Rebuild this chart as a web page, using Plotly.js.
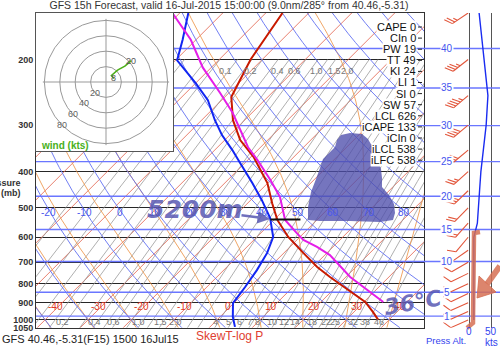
<!DOCTYPE html>
<html>
<head>
<meta charset="utf-8">
<script src="https://cdn.plot.ly/plotly-3.0.1.min.js"></script>
<style>
html,body{margin:0;padding:0;background:#fff;overflow:hidden}
#chart{width:500px;height:348px}
</style>
</head>
<body>
<div id="chart"></div>
<script>
// ===== Sounding data =====
const tempP   = [150,200,252,291,329,365,429,486,539,599,661,704,721,767,796,895,952,1000];
const tempT   = [-56.1,-52.7,-48.5,-42.7,-36.4,-29.4,-20.1,-14.3,-9.2,-2.7,4.5,9.1,11.0,16.3,19.6,30.3,34.4,37.5];
const dewP    = [150,177,201,231,257,291,319,350,379,429,477,533,599,661,735,816,901,982,1044];
const dewT    = [-78.0,-73.1,-69.6,-60.1,-53.2,-46.9,-41.8,-35.9,-31.1,-23.6,-17.4,-11.3,-6.2,-3.9,-2.3,-1.1,-0.2,3.0,5.8];
const parcelP = [150,177,210,246,278,344,372,421,468,539,585,610,637,670,767,895];
const parcelT = [-81.7,-71.2,-62.0,-52.0,-44.5,-32.9,-27.8,-20.1,-13.9,-7.4,-1.6,1.5,6.3,11.2,21.0,34.5];
const lclLevel = 538;
const lclSegT  = [-10.9,-3.9];

// winds
const windP   = [150,200,250,300,350,400,450,500,550,600,650,700,750,800,850,900,950,1000];
const windSpd = [23,34,43,39,32,27,24,21,19,11,11,11,11,11,11,11,11,11];
const windDir = [236,232,230,230,230,228,226,224,222,220,235,240,244,245,245,246,246,246];
const hodoTop = 250;
const hodoLabelP = [850,250];
const hodoLabelText = ['8','20'];

// indices
const idxNames = ['CAPE','CIn','PW','TT','KI','LI','SI','SW','LCL','iCAPE','iCIn','iLCL','iLFC'];
const idxVals  = [0,0,19,49,24,1,0,57,626,133,0,538,538];

// diagram reference lines & labels
const isoT = [-120,-110,-100,-90,-80,-70,-60,-50,-40,-30,-20,-10,0,10,20,30,40,50];
const isoLabels = [-40,-30,-20,-10,0,10,20,30,40];
const thetaC = [-50,-40,-30,-20,-10,0,10,20,30,40,50,60,70,80,90,100,110,120,130,140,150,160];
const thetaLabels = [-20,-10,0,10,20,30,40,50,60,70,80];
const thetaW = [-40,-30,-20,-10,0,10,20,30,40];
const mixW = [0.02,0.04,0.06,0.1,0.15,0.2,0.3,0.4,0.5,0.6,0.8,1.0,1.2,1.5,2.0,2.5,3,4,5,6,7,8,10,12,14,16,18,20,22,25,28,32,38,46];
const mixLabelsBottom = ['0.2','0.4','0.6','1.0','1.5','2.0','4','5','6','7','8','10','12','14','18','22','25','32','38','46'];
const mixLabelsTop = ['0.1','0.2','0.4','0.6','1.0','1.5','2.0'];
const altKft = [1,5,10,15,20,25,30,35,40];
const pressTicks = [200,300,400,500,600,700,800,900,1000,1050];
const hodoRings = [20,40,60,80];
const speedTicks = [0,50];

// ===== geometry / style constants =====
const W=500, H=348, FONT='Liberation Sans, Arial, sans-serif';
const PL=36, PR=424, PT=13, PB=327.8;
const K=37.6;                       // skew (deg C per ln p)
const XMIN=-42.09, XMAX=48.14;      // skewed temperature range
const PTOP=150, PBOT=1050;
const SPD_MIN=-102.27, SPD_MAX=70.45;
const PXKT=0.44, PXLN=161.8, BARB_X=-2;
const HX=[-90.9,87.0], HY=[-89.6,89.6];
const C_ISO='#e2604a', C_DRY='#6270f2', C_MOIST='#ee9c55', C_MIX='#9a9a9a';
const C_ALT='#6a76ff', C_HAND='rgba(88,88,178,0.85)', C_SALMON='rgba(214,112,84,0.85)';

const sx = (T,p) => T + K*Math.log(1000/p);
const fx = px => px/W;
const fy = py => 1 - py/H;
const esat = Tc => 6.112*Math.exp(17.67*Tc/(Tc+243.5));

function push(arrX, arrY, xs, ys){ for(let i=0;i<xs.length;i++){arrX.push(xs[i]);arrY.push(ys[i]);} arrX.push(null); arrY.push(null); }

// isotherms
const isoX=[], isoY=[];
isoT.forEach(T=>push(isoX,isoY,[sx(T,PBOT),sx(T,PTOP)],[PBOT,PTOP]));
// dry adiabats
const dryX=[], dryY=[];
thetaC.forEach(th=>{
  const xs=[],ys=[];
  for(let p=PBOT;p>=PTOP;p-=10){const T=(th+273.15)*Math.pow(p/1000,0.2857)-273.15; xs.push(sx(T,p)); ys.push(p);}
  push(dryX,dryY,xs,ys);
});
// moist adiabats
function lapse(Tk,p){
  const Rd=287.04,cp=1005.7,L=2.501e6,eps=0.622;
  const es=esat(Tk-273.15), rs=eps*es/(p-es);
  return (Rd*Tk+L*rs)/(p*(cp+L*L*rs*eps/(Rd*Tk*Tk)));
}
const moistX=[], moistY=[];
thetaW.forEach(tw=>{
  const up=[], dn=[];
  let T=tw+273.15, p=1000; up.push([p,T]);
  while(p>PTOP){const dp=-5;const k1=lapse(T,p);const k2=lapse(T+k1*dp/2,p+dp/2);T+=k2*dp;p+=dp;up.push([p,T]);}
  T=tw+273.15; p=1000;
  while(p<PBOT){const dp=5;const k1=lapse(T,p);const k2=lapse(T+k1*dp/2,p+dp/2);T+=k2*dp;p+=dp;dn.push([p,T]);}
  const all=dn.reverse().concat(up);
  push(moistX,moistY,all.map(a=>sx(a[1]-273.15,a[0])),all.map(a=>a[0]));
});
// mixing ratio lines
const tdOf=(w,p)=>{const e=w*p/(622+w);const l=Math.log(e/6.112);return 243.5*l/(17.67-l);};
const mixX=[], mixY=[];
mixW.forEach(w=>{
  const xs=[],ys=[];
  for(let p=PBOT;p>=200;p-=25){xs.push(sx(tdOf(w,p),p));ys.push(p);}
  push(mixX,mixY,xs,ys);
});
// altitude lines
const altP = altKft.map(h=>1013.25*Math.pow(1-6.8756e-6*h*1000,5.2559));
const altX=[], altY=[], altX3=[], altY3=[];
altP.forEach(p=>{push(altX,altY,[XMIN,XMAX],[p,p]); push(altX3,altY3,[SPD_MIN,SPD_MAX],[p,p]);});

// wind barbs
const barbX=[], barbY=[];
(function(){
  const c=Math.cos(Math.PI/3), s=Math.sin(Math.PI/3);
  for(let i=0;i<windP.length;i++){
    const p=windP[i], a=windDir[i]*Math.PI/180;
    const ux=Math.sin(a), uy=-Math.cos(a);
    const fvx=ux*c-uy*s, fvy=ux*s+uy*c;
    const pt=(dx,dy)=>[BARB_X+dx/PXKT, p*Math.exp(dy/PXLN)];
    const seg=(A,B)=>push(barbX,barbY,[A[0],B[0]],[A[1],B[1]]);
    const L=19, FL=9, SP=3;
    seg(pt(0,0),pt(L*ux,L*uy));
    const v=Math.round(windSpd[i]/5)*5;
    const n10=Math.floor(v/10), n5=(v%10)>=5?1:0;
    let d=L;
    for(let k=0;k<n10;k++){seg(pt(d*ux,d*uy),pt(d*ux+FL*fvx,d*uy+FL*fvy)); d-=SP;}
    if(n5){ if(n10===0) d-=SP; seg(pt(d*ux,d*uy),pt(d*ux+FL/2*fvx,d*uy+FL/2*fvy)); }
  }
})();

// hodograph
const hodoU=[], hodoV=[];
windP.forEach((p,i)=>{ if(p>=hodoTop){ const a=windDir[i]*Math.PI/180; hodoU.push(-windSpd[i]*Math.sin(a)); hodoV.push(-windSpd[i]*Math.cos(a)); }});
hodoU.reverse(); hodoV.reverse();

const ln = (x,y,color,width,xa,ya,extra)=>Object.assign({type:'scatter',mode:'lines',x:x,y:y,xaxis:xa||'x',yaxis:ya||'y',line:{color:color,width:width},hoverinfo:'skip',connectgaps:false},extra||{});

const traces = [
  ln(isoX,isoY,C_ISO,0.8),
  ln(mixX,mixY,C_MIX,0.8),
  ln(moistX,moistY,C_MOIST,0.9),
  ln(dryX,dryY,C_DRY,0.9),
  ln(altX,altY,C_ALT,1.4),
  ln(dewP.map((p,i)=>sx(dewT[i],p)),dewP,'#1226f2',2),
  ln(tempP.map((p,i)=>sx(tempT[i],p)),tempP,'#c81a00',2),
  ln(parcelP.map((p,i)=>sx(parcelT[i],p)),parcelP,'#e41ee8',2),
  ln(lclSegT.map(T=>sx(T,lclLevel)),[lclLevel,lclLevel],'#111',2),
  // hodograph
  ln([-82,82],[0,0],'#999',1,'x2','y2'),
  ln([0,0],[-82,82],'#999',1,'x2','y2'),
  ln(hodoU,hodoV,'#4caf18',1.6,'x2','y2'),
  // right panel
  ln(altX3,altY3,C_ALT,1.4,'x3','y3'),
  ln(barbX,barbY,'#e2553a',1.1,'x3','y3'),
  ln(windSpd,windP,'#1a2cf0',1.4,'x3','y3')
];

// ===== annotations =====
const A=[];
const txt=(x,y,text,o)=>A.push(Object.assign({x:x,y:y,xref:'paper',yref:'paper',xanchor:'center',yanchor:'middle',text:text,showarrow:false,font:{family:FONT,size:10,color:'#222'}},o||{}));
const dtxt=(x,y,xr,yr,text,o)=>A.push(Object.assign({x:x,y:y,xref:xr,yref:yr,xanchor:'center',yanchor:'middle',text:text,showarrow:false,font:{family:FONT,size:10,color:'#222'}},o||{}));
// axis title pieces
txt(fx(23),fy(183),'Pressure',{xanchor:'right',font:{family:FONT,size:9,weight:'bold',color:'#333'}});
txt(fx(23),fy(193),'(mb)',{xanchor:'right',font:{family:FONT,size:9,weight:'bold',color:'#333'}});
// isotherm labels
isoLabels.forEach(T=>dtxt(sx(T,918),Math.log10(918),'x','y',String(T),{xshift:-3,font:{family:FONT,size:10,color:'#e03a26'}}));
// dry adiabat labels at 500mb
thetaLabels.forEach(th=>{const p=516;const T=(th+273.15)*Math.pow(p/1000,0.2857)-273.15;dtxt(sx(T,p),Math.log10(p),'x','y',String(th),{xshift:-2,font:{family:FONT,size:10,color:'#4a58ee'}});});
// mixing ratio labels
mixLabelsBottom.forEach(s=>{const w=parseFloat(s),p=1013;dtxt(sx(tdOf(w,p),p),Math.log10(p),'x','y',s,{xshift:-3,font:{family:FONT,size:9,color:'#777'}});});
mixLabelsTop.forEach(s=>{const w=parseFloat(s),p=215;dtxt(sx(tdOf(w,p),p),Math.log10(p),'x','y',s,{xshift:-3,font:{family:FONT,size:9,color:'#777'}});});
// index labels
idxNames.forEach((n,i)=>txt(fx(417),fy(27+i*11.1),n+' '+idxVals[i],{xanchor:'right',bgcolor:'#fff',borderpad:0,font:{family:FONT,size:11,color:'#111'}}));
// pressure altitude labels
altP.forEach((p,i)=>dtxt(fx(447),Math.log10(p),'paper','y',String(altKft[i]),{bgcolor:'#fff',borderpad:0,font:{family:FONT,size:10,color:'#4455ee'}}));
// wind speed axis labels
speedTicks.forEach(v=>dtxt(v,fy(331),'x3','paper',String(v),{font:{family:FONT,size:10,color:'#3344ee'}}));
txt(fx(491),fy(342),'kts',{font:{family:FONT,size:10,color:'#3344ee'}});
txt(fx(446),fy(340),'Press Alt.',{font:{family:FONT,size:9.5,color:'#3344ee'}});
txt(fx(446),fy(351),'(kft)',{font:{family:FONT,size:9.5,color:'#3344ee'}});
// bottom texts
txt(0,fy(338.5),'GFS 40.46,-5.31(F15) 1500 16Jul15',{xanchor:'left',font:{family:FONT,size:11,color:'#222'}});
txt(fx(229),fy(336),'SkewT-log P',{font:{family:FONT,size:12,color:'#e04030'}});
// hodograph labels
hodoRings.forEach(r=>dtxt(-0.71*r,-0.69*r,'x2','y2',String(r),{font:{family:FONT,size:9,color:'#666'}}));
hodoLabelP.forEach((p,j)=>{const i=windP.indexOf(p);const a=windDir[i]*Math.PI/180;dtxt(-windSpd[i]*Math.sin(a),-windSpd[i]*Math.cos(a),'x2','y2',hodoLabelText[j],{font:{family:FONT,size:9,color:'#555'}});});
txt(fx(65),fy(145),'wind (kts)',{font:{family:FONT,size:10,weight:'bold',color:'#49b01a'}});
// hand-drawn notes
txt(fx(195),fy(209),'5200m',{font:{family:'DejaVu Sans, sans-serif',size:25,style:'italic',weight:'bold',color:C_HAND}});
A.push({x:fx(270),y:fy(219),xref:'paper',yref:'paper',ax:-30,ay:-4,text:'',showarrow:true,arrowhead:2,arrowsize:1,arrowwidth:2.5,arrowcolor:C_HAND});
txt(fx(413),fy(302),'36°C',{textangle:-10,font:{family:'DejaVu Sans, sans-serif',size:22,style:'italic',weight:'bold',color:C_HAND}});

// ===== shapes =====
const S=[];
hodoRings.forEach(r=>S.push({type:'circle',xref:'x2',yref:'y2',x0:-r,x1:r,y0:-r,y1:r,line:{color:'#999',width:1},layer:'below'}));
idxNames.forEach((n,i)=>S.push({type:'line',xref:'paper',yref:'paper',x0:fx(418),x1:fx(422),y0:fy(27+i*11.1),y1:fy(27+i*11.1),line:{color:'#222',width:1}}));
const P=(pts)=>'M'+pts.map(q=>fx(q[0])+','+fy(q[1])).join(' L')+' Z';
const blob=[[337,140],[341,135],[350,133],[362,134],[368,139],[372,146],[373,154],[378,161],[381,169],[382,178],[382,187],[389,195],[394,204],[395,213],[393,220],[380,222],[350,221],[320,221],[308,220],[308,207],[311,192],[316,179],[320,168],[323,159],[330,152],[335,147]];
S.push({type:'path',xref:'paper',yref:'paper',path:P(blob),fillcolor:'rgba(78,78,172,0.78)',line:{width:0}});
const openPath=(pts)=>'M'+pts.map(q=>fx(q[0])+','+fy(q[1])).join(' L');
S.push({type:'path',xref:'paper',yref:'paper',path:openPath([[480,232],[474,233],[473,323],[467,328]]),line:{color:C_SALMON,width:4.5}});
S.push({type:'path',xref:'paper',yref:'paper',path:openPath([[500,266],[487,284]]),line:{color:C_SALMON,width:6}});
S.push({type:'path',xref:'paper',yref:'paper',path:P([[477,298],[479,276],[496,292]]),fillcolor:C_SALMON,line:{color:C_SALMON,width:1}});

const noAx={showgrid:false,zeroline:false,showticklabels:false,ticks:'',fixedrange:true};
const layout={
  width:W,height:H,margin:{l:0,r:0,t:0,b:0},
  paper_bgcolor:'#fff',plot_bgcolor:'#fff',showlegend:false,
  font:{family:FONT,size:10,color:'#222'},
  title:{text:'GFS 15h Forecast, valid 16-Jul-2015 15:00:00 (9.0nm/285° from 40.46,-5.31)',x:fx(229),xanchor:'center',xref:'paper',y:fy(5),yanchor:'middle',yref:'paper',font:{family:FONT,size:10.5,color:'#333'}},
  xaxis:Object.assign({},noAx,{domain:[fx(PL),fx(PR)],range:[XMIN,XMAX],showline:true,mirror:true,linecolor:'#333',linewidth:1}),
  yaxis:{domain:[fy(PB),fy(PT)],type:'log',range:[Math.log10(PBOT),Math.log10(PTOP)],tickvals:pressTicks,ticktext:pressTicks.map(String),showgrid:true,gridcolor:'#262626',gridwidth:1,zeroline:false,showline:true,mirror:true,linecolor:'#333',ticks:'',tickfont:{family:FONT,size:9,weight:'bold',color:'#333'},fixedrange:true},
  xaxis2:Object.assign({},noAx,{domain:[fx(PL),fx(173)],anchor:'y2',range:HX,showline:true,mirror:true,linecolor:'#555'}),
  yaxis2:Object.assign({},noAx,{domain:[fy(151),fy(PT)],anchor:'x2',range:HY,showline:true,mirror:true,linecolor:'#555'}),
  xaxis3:{domain:[fx(PR),1],anchor:'y3',range:[SPD_MIN,SPD_MAX],tickvals:speedTicks,showgrid:true,gridcolor:'#555',gridwidth:1,zeroline:false,showticklabels:false,ticks:'',showline:false,fixedrange:true},
  yaxis3:Object.assign({},noAx,{domain:[fy(PB),fy(PT)],anchor:'x3',type:'log',range:[Math.log10(PBOT),Math.log10(PTOP)]}),
  annotations:A,shapes:S
};
Plotly.newPlot('chart',traces,layout,{staticPlot:true,displayModeBar:false});
</script>
</body>
</html>
